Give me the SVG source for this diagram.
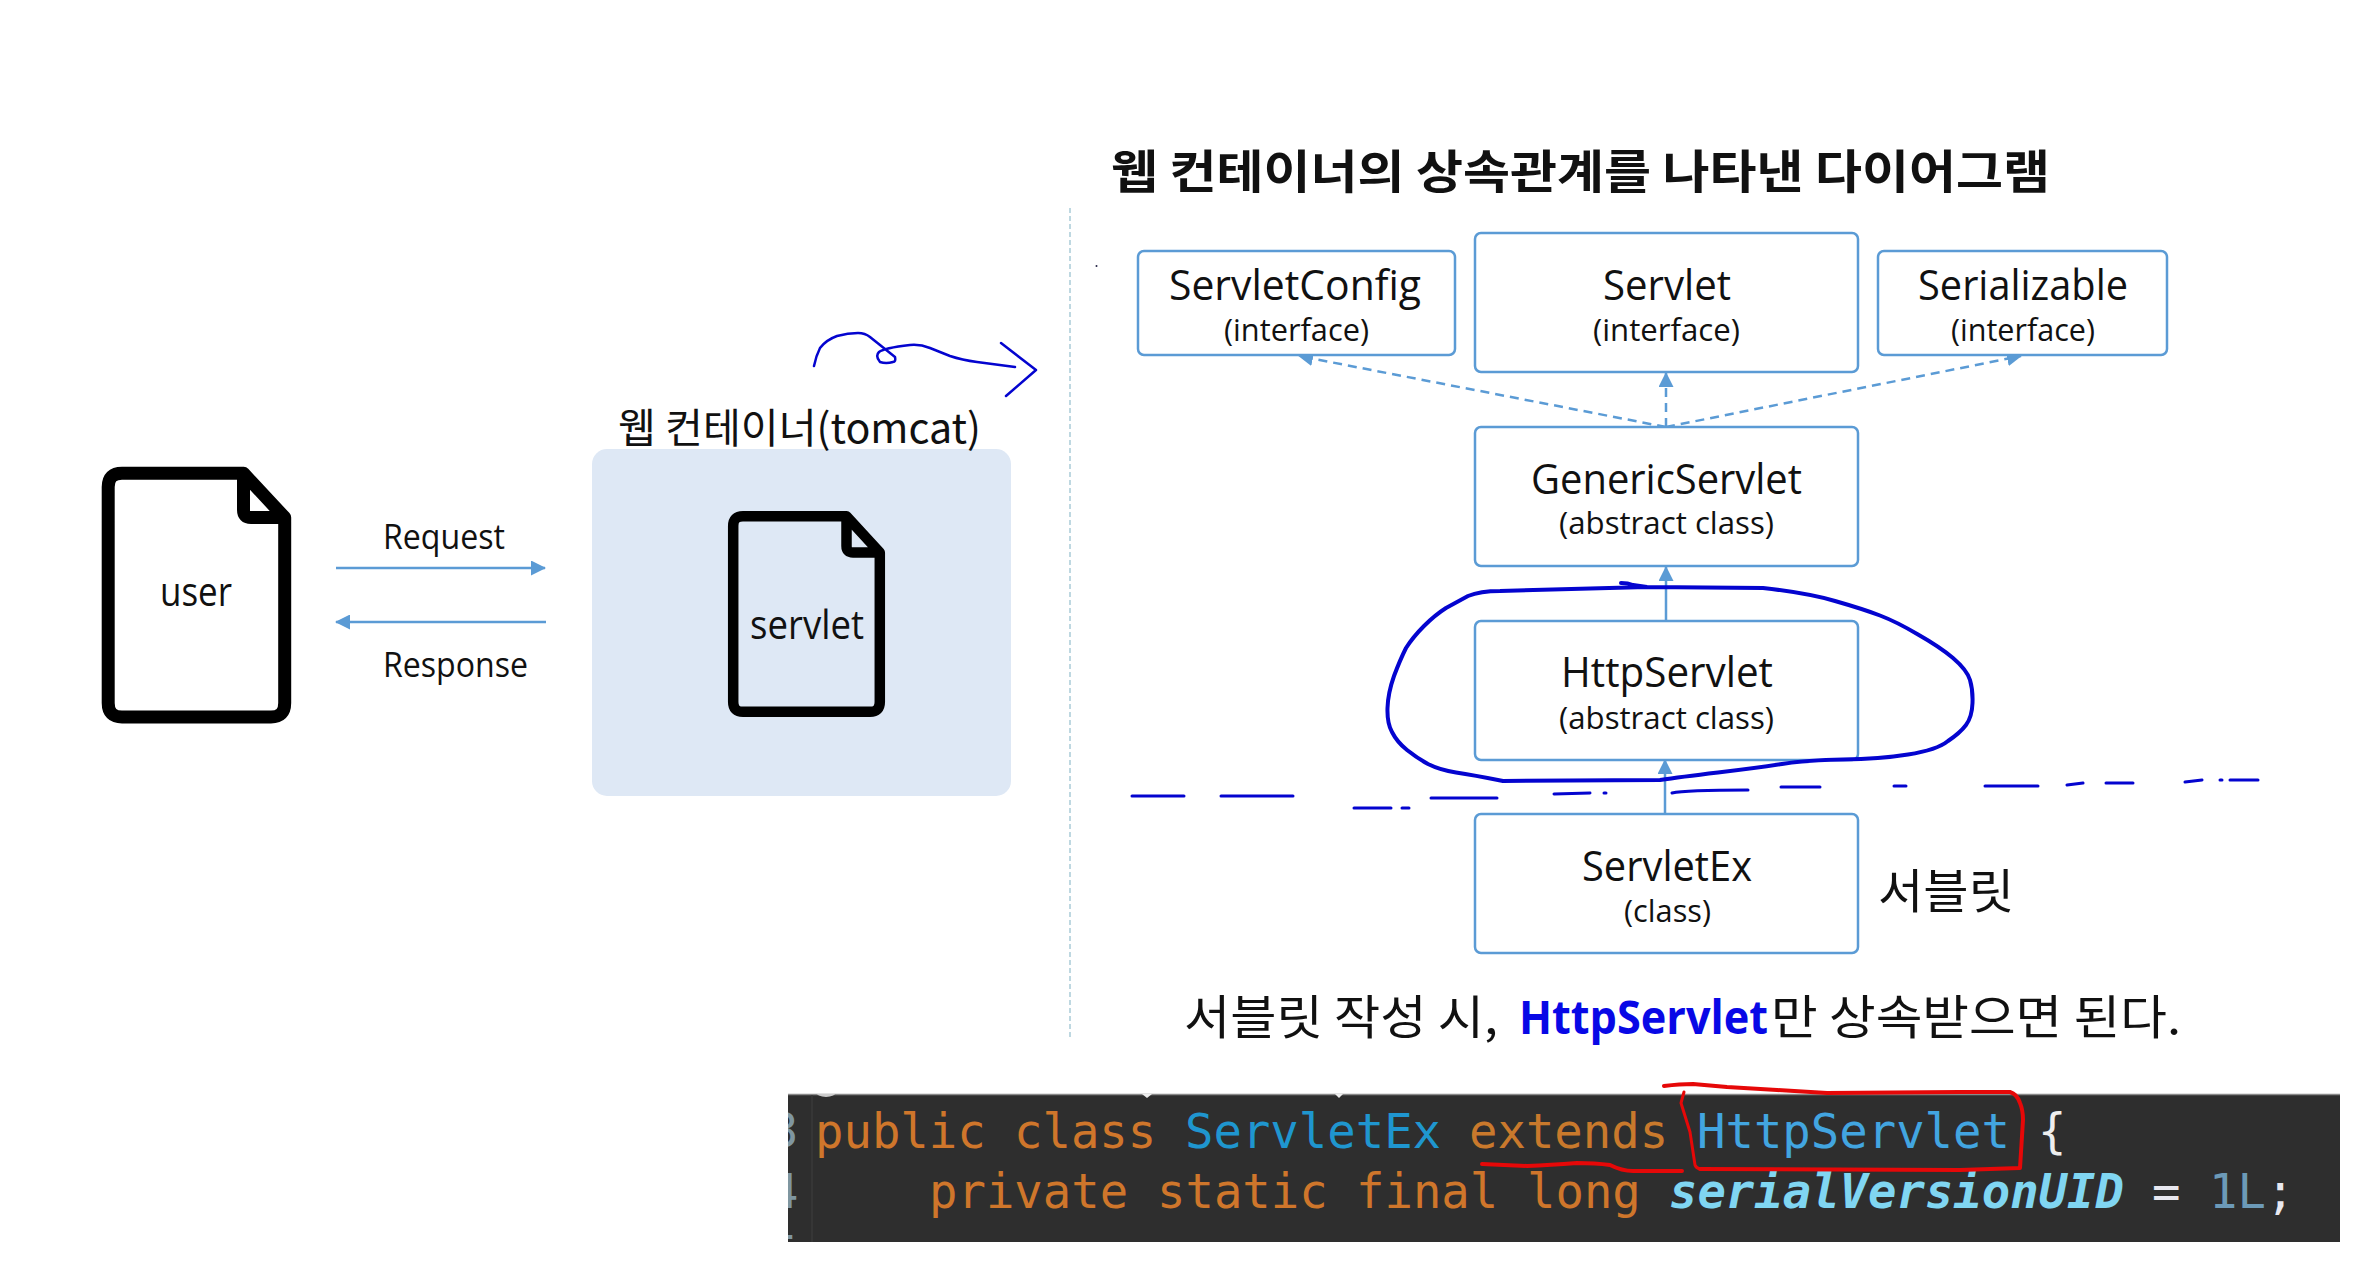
<svg xmlns="http://www.w3.org/2000/svg" width="2359" height="1277" viewBox="0 0 2359 1277">
<style>
text{font-family:"Open Sans","Noto Sans CJK KR","Noto Sans",sans-serif;fill:#111}
.ko{font-family:"Noto Sans CJK KR","Open Sans",sans-serif}
.box{fill:#fff;stroke:#5b9bd5;stroke-width:2.5}
.n{font-size:42px}
.s{font-size:31px}
.l{font-size:35px}
.doc{stroke:#000;stroke-linejoin:round}
.ink{fill:none;stroke:#0404cf;stroke-linecap:round;stroke-linejoin:round}
.red{fill:none;stroke:#e60808;stroke-linecap:round;stroke-linejoin:round}
.c{stroke:#5b9bd5;fill:none;stroke-width:2.5}
.d{stroke-dasharray:9 6}
.code{font-family:"DejaVu Sans Mono","Liberation Mono",monospace;font-size:47.25px}
.o{fill:#cf762b}
.g{fill:#7f96a0}
</style>
<defs>
<marker id="a" markerUnits="userSpaceOnUse" markerWidth="15" markerHeight="15" refX="14" refY="7.500" orient="auto"><path d="M0 0L15 7.500L0 15Z" fill="#5b9bd5"/></marker>
<clipPath id="cp"><rect x="788" y="1094" width="1552" height="148"/></clipPath>
</defs>
<rect width="2359" height="1277" fill="#fff"/>

<g id="container"><rect x="592" y="449" width="419" height="347" rx="15" fill="#dee8f5"/>
<text x="618" y="443" class="ko" font-size="41" textLength="363" lengthAdjust="spacingAndGlyphs">웹 컨테이너(tomcat)</text></g>

<g id="user"><path class="doc" fill="#fff" stroke-width="13" d="M243.500 473.300H122Q108.200 473.300 108.200 487V703Q108.200 717 122 717H271Q284.700 717 284.700 703V517.500L243.500 473.300V510Q243.500 517.500 251 517.500H284.700"/>
<text x="160" y="606" style="font-size:40px" textLength="72" lengthAdjust="spacingAndGlyphs">user</text></g>

<g id="servlet"><path class="doc" fill="#dee8f5" stroke-width="10.500" d="M846.500 516.200H743Q733.200 516.200 733.200 526V702Q733.200 711.800 743 711.800H870Q879.800 711.800 879.800 702V552.500L846.500 516.200V546Q846.500 552.500 853 552.500H879.800"/>
<text x="750" y="639" style="font-size:40px" textLength="114" lengthAdjust="spacingAndGlyphs">servlet</text></g>

<g id="title"><text x="1111" y="188" class="ko" font-size="46" font-weight="700" textLength="939" lengthAdjust="spacingAndGlyphs">웹 컨테이너의 상속관계를 나타낸 다이어그램</text></g>

<g id="divider"><line x1="1070" y1="208" x2="1070" y2="1038" stroke="#a9cbd8" stroke-width="1.500" stroke-dasharray="5 3"/><circle cx="1096.500" cy="266" r="1" fill="#224"/></g>

<g id="connectors">
<line class="c" x1="336" y1="568" x2="545" y2="568" marker-end="url(#a)"/>
<line class="c" x1="546" y1="622" x2="336" y2="622" marker-end="url(#a)"/>
<line class="c d" x1="1666" y1="427" x2="1299" y2="356" marker-end="url(#a)"/>
<line class="c d" x1="1666" y1="427" x2="1666" y2="373" marker-end="url(#a)"/>
<line class="c d" x1="1666" y1="427" x2="2021" y2="356" marker-end="url(#a)"/>
<line class="c" x1="1666" y1="621" x2="1666" y2="567" marker-end="url(#a)"/>
<line class="c" x1="1665" y1="814" x2="1665" y2="760" marker-end="url(#a)"/>
</g>

<text id="req" x="383" y="549" class="l" textLength="122" lengthAdjust="spacingAndGlyphs">Request</text>
<text id="res" x="383" y="677" class="l" textLength="145" lengthAdjust="spacingAndGlyphs">Response</text>

<g id="servletconfig"><rect class="box" x="1138" y="251" width="317" height="104" rx="6"/>
<text class="n" x="1169" y="300" textLength="252" lengthAdjust="spacingAndGlyphs">ServletConfig</text>
<text class="s" x="1224" y="341" textLength="145" lengthAdjust="spacingAndGlyphs">(interface)</text></g>
<g id="servlet-if"><rect class="box" x="1475" y="233" width="383" height="139" rx="6"/>
<text class="n" x="1603" y="300" textLength="128" lengthAdjust="spacingAndGlyphs">Servlet</text>
<text class="s" x="1593" y="341" textLength="147" lengthAdjust="spacingAndGlyphs">(interface)</text></g>
<g id="serializable"><rect class="box" x="1878" y="251" width="289" height="104" rx="6"/>
<text class="n" x="1918" y="300" textLength="210" lengthAdjust="spacingAndGlyphs">Serializable</text>
<text class="s" x="1951" y="341" textLength="144" lengthAdjust="spacingAndGlyphs">(interface)</text></g>
<g id="genericservlet"><rect class="box" x="1475" y="427" width="383" height="139" rx="6"/>
<text class="n" x="1531" y="494" textLength="271" lengthAdjust="spacingAndGlyphs">GenericServlet</text>
<text class="s" x="1559" y="534" textLength="215" lengthAdjust="spacingAndGlyphs">(abstract class)</text></g>
<g id="httpservlet"><rect class="box" x="1475" y="621" width="383" height="139" rx="6"/>
<text class="n" x="1561" y="687" textLength="212" lengthAdjust="spacingAndGlyphs">HttpServlet</text>
<text class="s" x="1559" y="729" textLength="215" lengthAdjust="spacingAndGlyphs">(abstract class)</text></g>
<g id="servletex"><rect class="box" x="1475" y="814" width="383" height="139" rx="6"/>
<text class="n" x="1582" y="881" textLength="170" lengthAdjust="spacingAndGlyphs">ServletEx</text>
<text class="s" x="1624" y="922" textLength="87" lengthAdjust="spacingAndGlyphs">(class)</text></g>

<text id="label-servlet" class="ko" x="1878" y="908" font-size="47" textLength="136" lengthAdjust="spacingAndGlyphs">서블릿</text>
<text id="note" y="1034" font-size="47"><tspan class="ko" x="1184" textLength="314" lengthAdjust="spacingAndGlyphs">서블릿 작성 시,</tspan><tspan x="1519" style="fill:#0808e6;font-family:'Open Sans',sans-serif;font-weight:700" textLength="249" lengthAdjust="spacingAndGlyphs">HttpServlet</tspan><tspan class="ko" x="1771" textLength="410" lengthAdjust="spacingAndGlyphs">만 상속받으면 된다.</tspan></text>

<g id="ink-blue">
<path class="ink" stroke-width="2.500" d="M814 366Q816 356 820 348Q826 340 837 336Q848 333 858 333Q865 333 870 337L885 349L895 357Q896 362 893 362Q886 364 880 362Q875 356 879 352Q884 348 910 345Q920 344 930 348L950 356Q962 360 977 362L1015 367M1001 343L1036 370L1006 396"/>
<path class="ink" stroke-width="4" d="M1621 583Q1628 583 1633 585L1647 587L1763 588Q1807 593 1835 601Q1863 609 1880 615.500Q1897 622 1918 634.500Q1940 647 1953 658Q1967 670 1970 680Q1973 690 1972.500 703Q1972 717 1966 725Q1960 733 1948 741Q1937 750 1908 754.500Q1880 759 1843 759.500Q1807 760 1782 764Q1757 768 1718 772.500Q1680 777 1660 780L1503 781Q1473 775 1456 772.500Q1440 770 1428 764Q1417 758 1407 750Q1397 742 1392 732Q1387 723 1387.500 708Q1388 693 1394 676Q1400 660 1406 648Q1413 637 1424 626Q1435 615 1446 608Q1457 602 1468 596Q1480 591 1500 591L1647 587"/>
<path class="ink" stroke-width="3" d="M1132 796H1184M1221 796H1293M1354 808H1391M1402 808H1409M1431 798H1497M1554 794L1590 793M1604 793H1606M1672 793Q1685 790 1748 790M1781 787H1820M1894 786H1906M1985 786H2038M2067 785L2083 783M2106 783H2133M2185 782L2202 780M2220 780H2222M2230 780H2258"/>
</g>

<g id="code">
<rect x="788" y="1094" width="1552" height="148" fill="#2e2e2e"/>
<line x1="788" y1="1094.500" x2="2340" y2="1094.500" stroke="#8a8a8a" stroke-width="1.500"/>
<line x1="812" y1="1095" x2="812" y2="1242" stroke="#3a3a3a" stroke-width="1.500"/>
<g clip-path="url(#cp)">
<ellipse cx="826" cy="1092" rx="10" ry="5" fill="#ccc"/>
<path d="M1142 1094H1152L1147 1098ZM1335 1094H1343L1339 1098Z" fill="#eee"/>
<text class="code g" x="770" y="1147">3</text>
<text class="code g" x="770" y="1208">4</text>
<text class="code g" x="770" y="1270">5</text>
<text class="code o" x="815" y="1148">public</text>
<text class="code o" x="1014" y="1148">class</text>
<text class="code" x="1185" y="1148" style="fill:#1f96cf">ServletEx</text>
<text class="code o" x="1469" y="1148" style="fill:#c9792c">extends</text>
<text class="code" x="1697" y="1148" style="fill:#42a5e0">HttpServlet</text>
<text class="code" x="2038" y="1148" style="fill:#eee">{</text>
<text class="code o" x="929" y="1208">private</text>
<text class="code o" x="1157" y="1208">static</text>
<text class="code o" x="1356" y="1208">final</text>
<text class="code o" x="1527" y="1208">long</text>
<text class="code" x="1669" y="1208" font-style="italic" font-weight="700" style="fill:#80d6f2" textLength="455" lengthAdjust="spacingAndGlyphs">serialVersionUID</text>
<text class="code" x="2152" y="1208" style="fill:#e8e8f0">=</text>
<text class="code" x="2209" y="1208" style="fill:#6c9ab8">1L</text>
<text class="code" x="2266" y="1208" style="fill:#e8e8f0">;</text>
</g>
</g>

<g id="ink-red">
<path class="red" stroke-width="4" d="M1664 1086Q1680 1084 1693 1084L1727 1087L1777 1090L1827 1093L1960 1092L2010 1092Q2017 1094 2020 1103Q2023 1110 2023 1120L2020 1168L1960 1170L1700 1169"/>
<path class="red" stroke-width="3" d="M1684 1092L1681 1103L1690 1132L1695 1165Q1696 1168 1700 1169"/>
<path class="red" stroke-width="4" d="M1482 1164L1527 1166Q1550 1165 1577 1163Q1595 1163 1610 1165Q1622 1171 1633 1171H1682"/>
</g>
</svg>
